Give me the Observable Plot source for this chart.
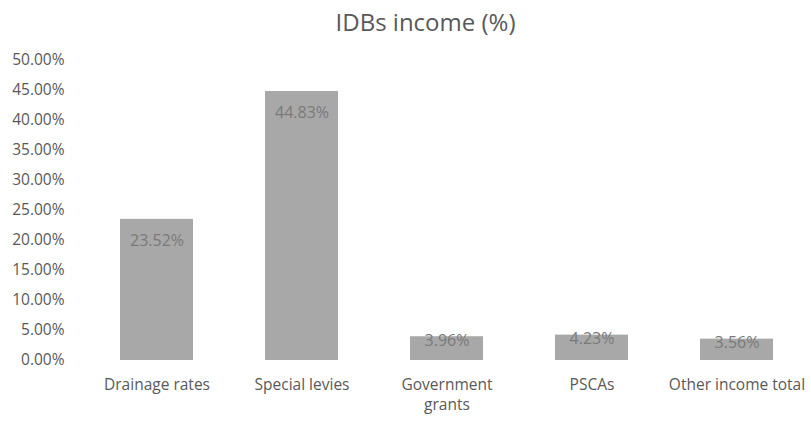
<!DOCTYPE html>
<html>
<head>
<meta charset="utf-8">
<script src="https://cdn.jsdelivr.net/npm/d3@7"></script>
<script src="https://cdn.jsdelivr.net/npm/@observablehq/plot@0.6"></script>
<style>
  html, body { margin: 0; padding: 0; background: #fff; }
  #chart svg { display: block; }
</style>
</head>
<body>
<div id="chart"></div>
<script>
const categories = ["Drainage rates", "Special levies", "Government grants", "PSCAs", "Other income total"];
const values = [23.52, 44.83, 3.96, 4.23, 3.56];
const tickLabels = {"Government grants": "Government\ngrants"};
const yTicks = [0, 5, 10, 15, 20, 25, 30, 35, 40, 45, 50];
const title = "IDBs income (%)";

const data = categories.map((c, i) => ({category: c, value: values[i]}));
const fmt = v => v.toFixed(2) + "%";
const font = "'Open Sans', sans-serif";

const chart = Plot.plot({
  width: 811,
  height: 424,
  marginTop: 60,
  marginBottom: 64,
  marginLeft: 82,
  marginRight: 1,
  style: {fontFamily: font, fontSize: "15px", color: "#595959", background: "#fff"},
  x: {domain: categories, paddingInner: 0.5, paddingOuter: 0.25, label: null},
  y: {domain: [0, 50], label: null},
  marks: [
    Plot.barY(data, {x: "category", y: "value", fill: "#a8a8a8"}),
    Plot.text(data.filter(d => d.value > 10), {x: "category", y: "value", text: d => fmt(d.value), dy: 21, fill: "#7a7a7a", fontSize: 16}),
    Plot.text(data.filter(d => d.value <= 10), {x: "category", y: "value", text: d => fmt(d.value), dy: 4, fill: "#7a7a7a", fontSize: 16}),
    Plot.axisY({ticks: yTicks, tickFormat: fmt, tickSize: 0, tickPadding: 18, label: null, fontSize: 15.5, fill: "#595959"}),
    Plot.axisX({tickFormat: d => tickLabels[d] ?? d, tickSize: 0, tickPadding: 15, label: null, fontSize: 15.5, lineHeight: 1.3, fill: "#595959"}),
    Plot.text([title], {frameAnchor: "top", dx: -21, dy: -37, fontSize: 24, fill: "#595959", lineAnchor: "middle"})
  ]
});
document.getElementById("chart").appendChild(chart);
</script>
</body>
</html>
